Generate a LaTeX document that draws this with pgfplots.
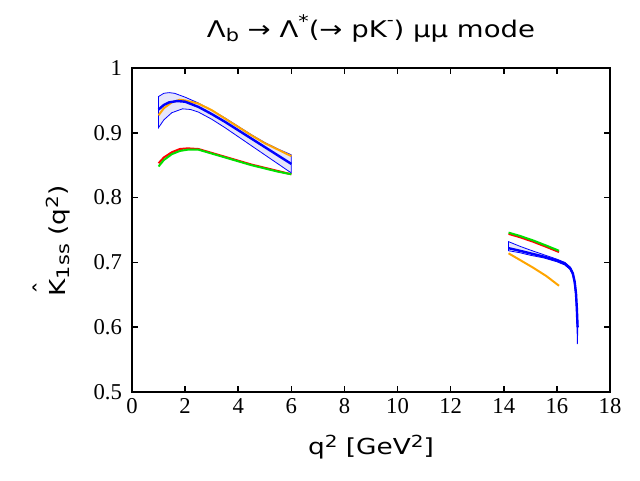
\documentclass[border=0pt]{standalone}
\usepackage{graphicx}
\usepackage{pgfplots}
\pgfplotsset{compat=1.18}
\usepackage{fontspec}
\setmainfont[FakeStretch=1.2]{DejaVu Sans}
\newfontfamily\tickfont{Liberation Serif}
\newcommand\sps[1]{\raisebox{0.33em}{\fontsize{12.5pt}{12pt}\selectfont #1}}
\newcommand\sbs[1]{\raisebox{-0.2em}{\fontsize{13pt}{12pt}\selectfont #1}}
\definecolor{gpgreen}{RGB}{0,224,0}
\definecolor{gporange}{RGB}{255,165,0}
\definecolor{bandfill}{RGB}{230,230,250}
\begin{document}
\begin{tikzpicture}[x=1pt,y=1pt]
\path[use as bounding box] (0,0) rectangle (480,360);
\begin{axis}[
  at={(99pt,66pt)}, anchor=south west, scale only axis,
  width=358.5pt, height=243pt,
  xmin=0, xmax=18, ymin=0.5, ymax=1,
  xtick={0,2,4,6,8,10,12,14,16,18},
  ytick={0.5,0.6,0.7,0.8,0.9,1},
  tick align=inside, major tick length=4.5pt,
  tick style={line width=1.1pt,black},
  axis line style={line width=1.5pt},
  minor tick num=0,
  /pgf/number format/assume math mode=true,
  tick label style={font=\tickfont\fontsize{17}{18}\selectfont},
  yticklabel style={xshift=-4pt},
  xticklabel style={yshift=-1.5pt},
  label style={font=\fontsize{16.5}{18}\selectfont},
  title style={font=\fontsize{17.2}{18}\selectfont, at={(axis description cs:0.5,1)}, anchor=base, yshift=17pt},
  title={Λ\sbs{b} → Λ\raisebox{0.45em}{\fontsize{13pt}{12pt}\selectfont *}(→ pK\raisebox{0.5em}{\fontsize{12pt}{12pt}\selectfont -}) μμ mode},
  xlabel={q\sps{2} [GeV\sps{2}]},
  xlabel style={at={(axis description cs:0.5,0)}, anchor=base, yshift=-46.7pt},
  clip=false,
]
% low q2 band
\addplot[draw=blue, line width=0.6pt, fill=bandfill] coordinates {
(1.0,0.956) (1.2,0.961) (1.4,0.962) (1.6,0.961) (2.0,0.955) (2.5,0.946) (3.0,0.935) (3.5,0.923) (4.0,0.910) (4.5,0.897) (5.0,0.885) (5.5,0.875) (6.0,0.866)
(6.0,0.838) (5.5,0.852) (5.0,0.866) (4.5,0.880) (4.0,0.894) (3.5,0.908) (3.0,0.921) (2.5,0.932) (2.2,0.936) (1.9,0.937) (1.5,0.931) (1.2,0.920) (1.0,0.908)
} -- cycle;
% high q2 band
\addplot[draw=blue, line width=0.6pt, fill=bandfill] coordinates {
(14.18,0.732) (14.6,0.725) (15.0,0.719) (15.5,0.712) (16.0,0.705) (16.3,0.700) (16.5,0.693) (16.6,0.685) (16.67,0.672) (16.72,0.655) (16.76,0.630) (16.79,0.600)
(16.77,0.574) (16.75,0.620) (16.71,0.648) (16.66,0.667) (16.6,0.680) (16.5,0.689) (16.3,0.696) (16.0,0.701) (15.5,0.707) (15.0,0.711) (14.6,0.715) (14.18,0.718)
} -- cycle;
% orange
\addplot[gporange, line width=1.5pt] coordinates {
(1.0,0.927) (1.2,0.938) (1.5,0.947) (1.8,0.951) (2.0,0.950) (2.5,0.945) (3.0,0.935) (3.5,0.922) (4.0,0.909) (4.5,0.896) (5.0,0.884) (5.5,0.874) (6.0,0.864)
};
\addplot[gporange, line width=1.5pt] coordinates {
(14.18,0.714) (14.6,0.704) (15.1,0.692) (15.6,0.679) (16.08,0.664)
};
% red
\addplot[red, line width=1.5pt] coordinates {
(1.0,0.853) (1.2,0.862) (1.5,0.870) (1.8,0.875) (2.1,0.876) (2.5,0.875) (3.0,0.869) (3.5,0.863) (4.0,0.857) (4.5,0.851) (5.0,0.846) (5.5,0.841) (6.0,0.836)
};
\addplot[red, line width=1.5pt] coordinates {
(14.18,0.744) (14.6,0.739) (15.1,0.732) (15.6,0.724) (16.08,0.716)
};
% green
\addplot[gpgreen, line width=1.5pt] coordinates {
(1.0,0.848) (1.2,0.858) (1.5,0.867) (1.8,0.872) (2.1,0.874) (2.5,0.874) (3.0,0.868) (3.5,0.862) (4.0,0.856) (4.5,0.850) (5.0,0.845) (5.5,0.840) (6.0,0.836)
};
\addplot[gpgreen, line width=1.5pt] coordinates {
(14.18,0.746) (14.6,0.741) (15.1,0.734) (15.6,0.726) (16.08,0.718)
};
% blue central
\addplot[blue, line width=1.8pt] coordinates {
(1.0,0.936) (1.2,0.943) (1.4,0.947) (1.7,0.949) (2.0,0.948) (2.5,0.940) (3.0,0.929) (3.5,0.917) (4.0,0.904) (4.5,0.891) (5.0,0.878) (5.5,0.865) (6.0,0.852)
};
\addplot[blue, line width=1.8pt] coordinates {
(14.18,0.722) (14.6,0.718) (15.0,0.714) (15.5,0.709) (16.0,0.703) (16.3,0.698) (16.5,0.691) (16.6,0.683) (16.67,0.670) (16.72,0.652) (16.75,0.630) (16.78,0.600)
};
% y label
\node[rotate=90, anchor=base, inner sep=0pt, font=\fontsize{16.5}{18}\selectfont]
  at ([xshift=-50pt]rel axis cs:0,0.466)
  {\ooalign{K\cr\hidewidth\raisebox{0.68em}{ˆ}\hidewidth\cr}\sbs{1ss} (q\sps{2})};
\end{axis}
\end{tikzpicture}
\end{document}
